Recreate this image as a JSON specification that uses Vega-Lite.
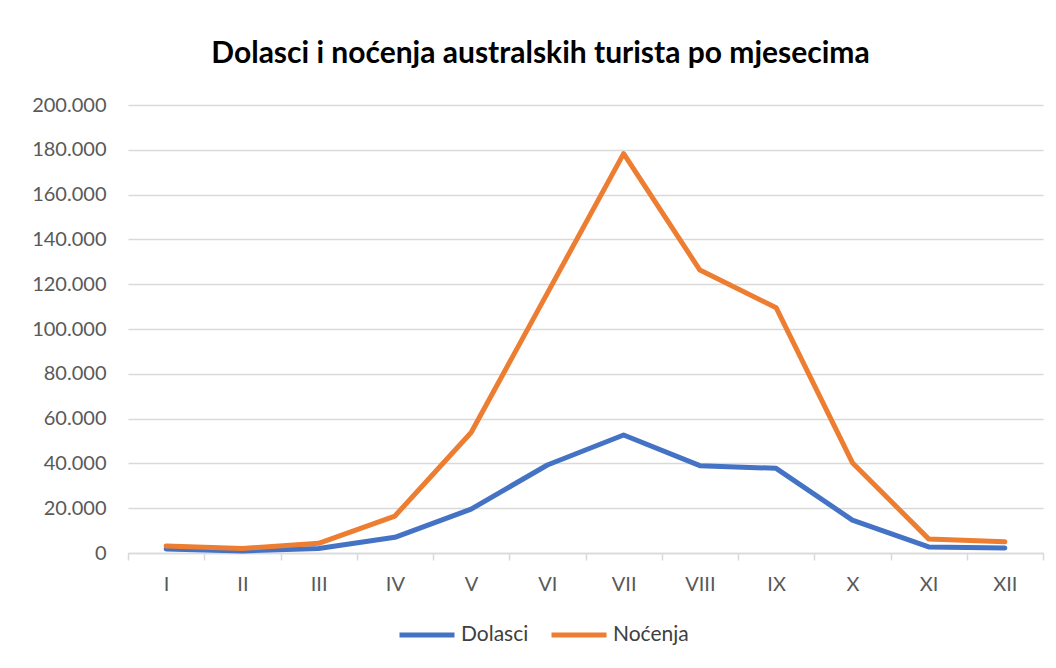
{
  "$schema": "https://vega.github.io/schema/vega-lite/v6.json",
  "autosize": {"type": "none"},
  "padding": {"left": 128, "top": 105, "right": 13, "bottom": 115},
  "width": 915,
  "height": 448,
  "background": "white",
  "config": {
    "locale": {"number": {"decimal": ",", "thousands": ".", "grouping": [3], "currency": ["", " €"]}},
    "view": {"stroke": null},
    "font": "Lato"
  },
  "title": {
    "text": "Dolasci i noćenja australskih turista po mjesecima",
    "font": "Lato",
    "fontSize": 30,
    "fontWeight": "bold",
    "color": "#000000",
    "offset": 26,
    "dx": -45
  },
  "data": {
    "values": [
      {"mjesec": "I", "serija": "Dolasci", "vrijednost": 1800},
      {"mjesec": "II", "serija": "Dolasci", "vrijednost": 900},
      {"mjesec": "III", "serija": "Dolasci", "vrijednost": 2000},
      {"mjesec": "IV", "serija": "Dolasci", "vrijednost": 7000},
      {"mjesec": "V", "serija": "Dolasci", "vrijednost": 19600},
      {"mjesec": "VI", "serija": "Dolasci", "vrijednost": 39300},
      {"mjesec": "VII", "serija": "Dolasci", "vrijednost": 52700},
      {"mjesec": "VIII", "serija": "Dolasci", "vrijednost": 39000},
      {"mjesec": "IX", "serija": "Dolasci", "vrijednost": 37800},
      {"mjesec": "X", "serija": "Dolasci", "vrijednost": 14700},
      {"mjesec": "XI", "serija": "Dolasci", "vrijednost": 2700},
      {"mjesec": "XII", "serija": "Dolasci", "vrijednost": 2200},
      {"mjesec": "I", "serija": "Noćenja", "vrijednost": 3100},
      {"mjesec": "II", "serija": "Noćenja", "vrijednost": 2000},
      {"mjesec": "III", "serija": "Noćenja", "vrijednost": 4300},
      {"mjesec": "IV", "serija": "Noćenja", "vrijednost": 16500},
      {"mjesec": "V", "serija": "Noćenja", "vrijednost": 53800},
      {"mjesec": "VI", "serija": "Noćenja", "vrijednost": 116000},
      {"mjesec": "VII", "serija": "Noćenja", "vrijednost": 178300},
      {"mjesec": "VIII", "serija": "Noćenja", "vrijednost": 126300},
      {"mjesec": "IX", "serija": "Noćenja", "vrijednost": 109500},
      {"mjesec": "X", "serija": "Noćenja", "vrijednost": 40300},
      {"mjesec": "XI", "serija": "Noćenja", "vrijednost": 6300},
      {"mjesec": "XII", "serija": "Noćenja", "vrijednost": 5000}
    ]
  },
  "mark": {"type": "line", "strokeWidth": 5, "strokeCap": "round", "strokeJoin": "round"},
  "encoding": {
    "x": {
      "field": "mjesec",
      "type": "ordinal",
      "sort": ["I", "II", "III", "IV", "V", "VI", "VII", "VIII", "IX", "X", "XI", "XII"],
      "bandPosition": 0.5,
      "scale": {"type": "band", "paddingInner": 0, "paddingOuter": 0},
      "axis": {
        "title": null,
        "labelAngle": 0,
        "labelFont": "Lato",
        "labelFontSize": 20,
        "labelColor": "#595959",
        "labelPadding": 14,
        "domainColor": "#d9d9d9",
        "domainWidth": 1.5,
        "tickColor": "#d9d9d9",
        "tickWidth": 1.5,
        "tickSize": 7,
        "tickBand": "extent",
        "grid": false
      }
    },
    "y": {
      "field": "vrijednost",
      "type": "quantitative",
      "scale": {"domain": [0, 200000], "nice": false},
      "axis": {
        "title": null,
        "values": [0, 20000, 40000, 60000, 80000, 100000, 120000, 140000, 160000, 180000, 200000],
        "format": ",.0f",
        "labelFont": "Lato",
        "labelFontSize": 20,
        "labelColor": "#595959",
        "labelPadding": 22,
        "domain": false,
        "ticks": false,
        "grid": true,
        "gridColor": "#d9d9d9",
        "gridWidth": 1.5
      }
    },
    "color": {
      "field": "serija",
      "type": "nominal",
      "scale": {"domain": ["Dolasci", "Noćenja"], "range": ["#4472C4", "#ED7D31"]},
      "legend": {
        "title": null,
        "orient": "none",
        "direction": "horizontal",
        "legendX": 269,
        "legendY": 500,
        "symbolType": "stroke",
        "symbolSize": 3025,
        "symbolStrokeWidth": 5,
        "labelFont": "Lato",
        "labelFontSize": 21,
        "labelColor": "#404040",
        "labelOffset": 4,
        "columnPadding": 12
      }
    }
  }
}
